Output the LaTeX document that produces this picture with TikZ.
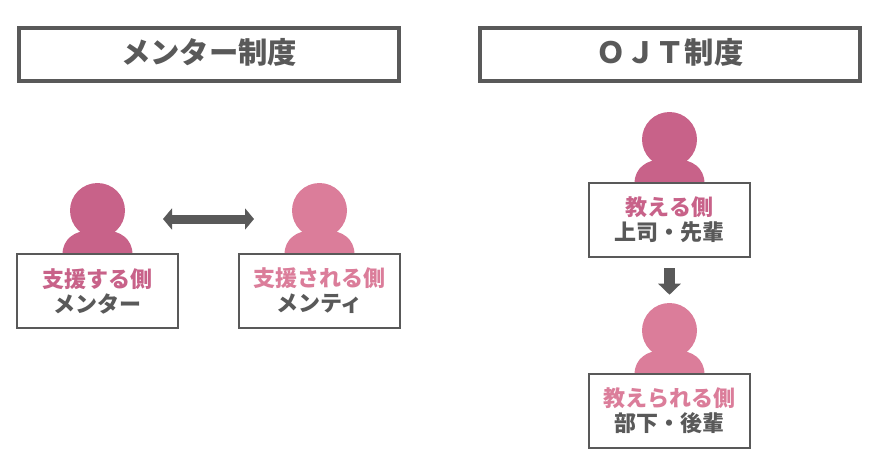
\documentclass[tikz,border=0pt]{standalone}
\usepackage{fontspec}
\usetikzlibrary{arrows.meta,positioning}
\newfontfamily\jpfont{Noto Sans CJK JP}
\definecolor{framecolor}{RGB}{89, 89, 89}
\definecolor{uppercolor}{RGB}{200, 98, 137}
\definecolor{lowercolor}{RGB}{219, 125, 154}
\newcommand{\px}{0.75pt}
\tikzset{every node/.append style={align=center}}
\begin{document}
\begin{tikzpicture}[
    x=0.75pt, y=-0.75pt,
    titlebox/.style={draw=framecolor, line width=4.5*\px, fill=white, minimum width=380*\px, minimum height=53*\px, inner sep=0pt, text=framecolor, text height=19pt, text depth=5pt, font=\jpfont\bfseries\fontsize{22}{26}\selectfont},
    rolebox/.style={draw=framecolor, line width=2*\px, fill=white, minimum width=161*\px, minimum height=74*\px, inner sep=0pt, text=framecolor, font=\jpfont\bfseries\fontsize{16.5}{18.75}\selectfont},
    head/.style={circle, fill=#1, minimum size=55*\px, inner sep=0pt},
    blockarrow/.style={draw=framecolor, line width=#1*\px},
    pics/person/.style={code={
        \node[head=#1] (head) at (0,0) {};
        \fill[#1] (-35,44) .. controls (-35,28) and (-22,20) .. (-8,20) -- (8,20) .. controls (22,20) and (35,28) .. (35,44) -- cycle;
    }}
]
    \useasboundingbox (0,0) rectangle (875,471);

    % Titles
    \node[titlebox] (mentortitle) at (209,54.5) {メンター制度};
    \node[titlebox] (ojttitle) at (670,54.5) {ＯＪＴ制度};

    % Mentor side
    \pic (mentor) at (97.5,210.5) {person=uppercolor};
    \pic (mentee) at (319.5,210.5) {person=lowercolor};
    \node[rolebox] (mentorbox) at (97.5,291) {\textcolor{uppercolor}{支援する側}\\メンター};
    \node[rolebox] (menteebox) at (319.5,291) {\textcolor{lowercolor}{支援される側}\\メンティ};

    % OJT side
    \pic (boss) at (669.5,139.5) {person=uppercolor};
    \pic (junior) at (669.5,330.5) {person=lowercolor};
    \node[rolebox] (bossbox) at (669.5,220) {\textcolor{uppercolor}{教える側}\\上司・先輩};
    \node[rolebox] (juniorbox) at (669.5,411) {\textcolor{lowercolor}{教えられる側}\\部下・後輩};

    % Arrows
    \coordinate (swapleft) at (163,219);
    \coordinate (swapright) at (254,219);
    \draw[blockarrow=9, {Triangle[length=9*\px,width=21*\px]}-{Triangle[length=9*\px,width=21*\px]}] (swapleft) -- (swapright);
    \draw[blockarrow=11, -{Triangle[length=11*\px,width=22*\px]}, shorten <=10*\px, shorten >=8*\px] (bossbox) -- (juniorhead);
\end{tikzpicture}
\end{document}
